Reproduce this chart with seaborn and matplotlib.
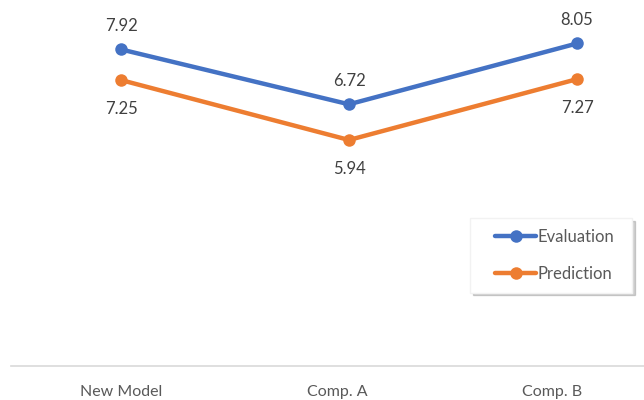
import matplotlib
matplotlib.use("Agg")
import matplotlib.pyplot as plt
from matplotlib.legend_handler import HandlerLine2D
import seaborn as sns
import pandas as pd

# Scores per model
categories = ["New Model", "Comp. A", "Comp. B"]
evaluation = [7.92, 6.72, 8.05]
prediction = [7.25, 5.94, 7.27]
series_names = ["Evaluation", "Prediction"]
colors = ["#4472C4", "#ED7D31"]

df = pd.DataFrame({
    "x": list(range(len(categories))) * 2,
    "score": evaluation + prediction,
    "series": [series_names[0]] * 3 + [series_names[1]] * 3,
})


class IndentedLine(HandlerLine2D):
    """Legend line key pushed right inside its slot, leaving extra left padding."""

    def __init__(self, indent, **kw):
        super().__init__(**kw)
        self.indent = indent

    def create_artists(self, legend, orig_handle, xdescent, ydescent,
                       width, height, fontsize, trans):
        return super().create_artists(legend, orig_handle, xdescent - self.indent,
                                      ydescent, width - self.indent, height,
                                      fontsize, trans)


sns.set_theme(style="white")
plt.rcParams["font.family"] = ["Lato", "DejaVu Sans"]

fig = plt.figure(figsize=(6.44, 4.00), dpi=100)
ax = fig.add_axes([11 / 644, 34 / 400, (644 - 11) / 644, 366 / 400])

sns.lineplot(data=df, x="x", y="score", hue="series", palette=colors,
             marker="o", markersize=9, markeredgewidth=0, linewidth=3.2,
             ax=ax, legend=True)

# value labels: evaluation above, prediction below
for xi, v in enumerate(evaluation):
    ax.annotate(f"{v:.2f}", (xi, v), xytext=(0, 11), textcoords="offset points",
                ha="center", va="bottom", fontsize=12, color="#404040")
for xi, v in enumerate(prediction):
    ax.annotate(f"{v:.2f}", (xi, v), xytext=(0, -15), textcoords="offset points",
                ha="center", va="top", fontsize=12, color="#404040")

ax.set_ylim(1, 9)
ax.set_xlim((11 - 121) / 228, (644 - 121) / 228)
# category labels sit on a slightly narrower pitch than the markers
label_pos = [0, (337 - 121) / 228, (552 - 121) / 228]
ax.set_xticks(label_pos)
ax.set_xticklabels(categories, fontsize=11.5, color="#595959")
ax.tick_params(axis="x", length=0, pad=13.5)
ax.set_yticks([])
ax.set_xlabel("")
ax.set_ylabel("")
for side in ["top", "left", "right"]:
    ax.spines[side].set_visible(False)
ax.spines["bottom"].set_color("#D9D9D9")
ax.spines["bottom"].set_linewidth(1.2)

handles, labels = ax.get_legend_handles_labels()
ax.legend(handles, labels, loc="upper left", mode="expand",
          bbox_to_anchor=(470 / 644, 1 - 295 / 400, 162 / 644, 77 / 400),
          bbox_transform=fig.transFigure, borderaxespad=0,
          handler_map={h: IndentedLine(10.5) for h in handles},
          frameon=True, fancybox=False, shadow={"color": "0.5", "alpha": 0.35},
          handlelength=3.3, handletextpad=0.1, labelspacing=1.25,
          borderpad=0.65, fontsize=12, labelcolor="#595959", edgecolor="#F2F2F2")

fig.savefig("out.png", dpi=100)
